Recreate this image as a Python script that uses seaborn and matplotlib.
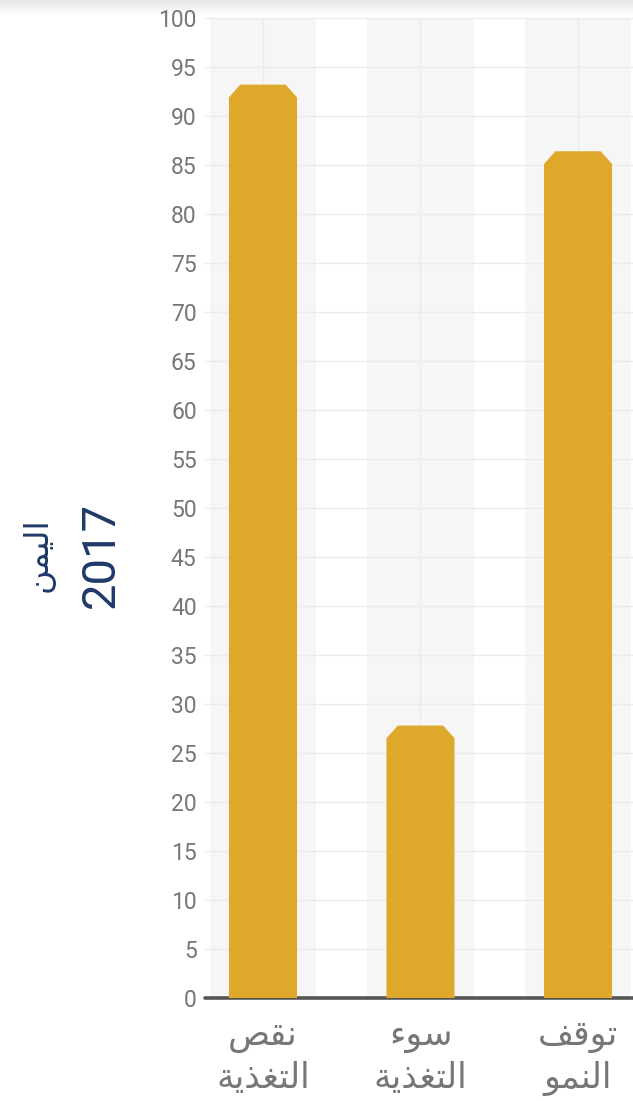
import numpy as np
import matplotlib
matplotlib.use("Agg")
import matplotlib.pyplot as plt
from matplotlib.patches import Polygon
import seaborn as sns

# ---- data ----
categories = ["نقص\nالتغذية", "سوء\nالتغذية", "توقف\nالنمو"]
values = [93.2, 27.8, 86.4]
y_ticks = list(range(0, 101, 5))
country = "اليمن"
year = "2017"

BAR_COLOR = "#DEA82A"
NAVY = "#1F3A68"
GRAY = "#777777"

# ---- minimal Arabic shaping (presentation forms + visual order) ----
FORMS = {
    'ا': ('\uFE8D', '\uFE8E', None, None),
    'ل': ('\uFEDD', '\uFEDE', '\uFEDF', '\uFEE0'),
    'ت': ('\uFE95', '\uFE96', '\uFE97', '\uFE98'),
    'غ': ('\uFECD', '\uFECE', '\uFECF', '\uFED0'),
    'ذ': ('\uFEAB', '\uFEAC', None, None),
    'ي': ('\uFEF1', '\uFEF2', '\uFEF3', '\uFEF4'),
    'ة': ('\uFE93', '\uFE94', None, None),
    'ن': ('\uFEE5', '\uFEE6', '\uFEE7', '\uFEE8'),
    'ق': ('\uFED5', '\uFED6', '\uFED7', '\uFED8'),
    'ص': ('\uFEB9', '\uFEBA', '\uFEBB', '\uFEBC'),
    'س': ('\uFEB1', '\uFEB2', '\uFEB3', '\uFEB4'),
    'و': ('\uFEED', '\uFEEE', None, None),
    'ء': ('\uFE80', None, None, None),
    'ف': ('\uFED1', '\uFED2', '\uFED3', '\uFED4'),
    'م': ('\uFEE1', '\uFEE2', '\uFEE3', '\uFEE4'),
}


def _dual(c):
    return c in FORMS and FORMS[c][2] is not None


def _joinable(c):
    return c in FORMS and FORMS[c][1] is not None


def shape_line(line):
    chars = list(line)
    out = []
    for i, c in enumerate(chars):
        if c not in FORMS:
            out.append(c)
            continue
        prev = chars[i - 1] if i > 0 else None
        nxt = chars[i + 1] if i + 1 < len(chars) else None
        jp = prev is not None and _dual(prev) and _joinable(c)
        jn = nxt is not None and _dual(c) and _joinable(nxt)
        iso, fin, ini, med = FORMS[c]
        if jp and jn:
            f = med
        elif jp:
            f = fin
        elif jn:
            f = ini
        else:
            f = iso
        out.append(f)
    return "".join(reversed(out))


def shape(text):
    return "\n".join(shape_line(l) for l in text.split("\n"))


sns.set_style("white")
plt.rcParams["font.family"] = ["DejaVu Sans"]

fig = plt.figure(figsize=(6.33, 11.01), dpi=100)
fig.patch.set_facecolor("white")

# top shadow gradient
gax = fig.add_axes([0, 1 - 16 / 1101, 1, 16 / 1101])
grad = np.linspace(0.90, 1.0, 32).reshape(-1, 1)
gax.imshow(np.repeat(grad, 4, axis=1), cmap="gray", vmin=0, vmax=1, aspect="auto")
gax.axis("off")

ax = fig.add_axes([205 / 633, 103 / 1101, 428 / 633, 980 / 1101])

sns.barplot(x=categories, y=values, color=BAR_COLOR, width=0.432,
            saturation=1, ax=ax, zorder=3)

# chamfered tops
cut_x, cut_y = 0.072, 1.3
for p in list(ax.patches):
    x0, w, h = p.get_x(), p.get_width(), p.get_height()
    poly = Polygon([(x0, 0), (x0, h - cut_y), (x0 + cut_x, h), (x0 + w - cut_x, h),
                    (x0 + w, h - cut_y), (x0 + w, 0)], closed=True,
                   facecolor=BAR_COLOR, edgecolor="none", zorder=3)
    p.set_visible(False)
    ax.add_patch(poly)

# background bands
for i in range(len(categories)):
    ax.axvspan(i - 0.337, i + 0.337, color="#F6F6F6", zorder=0, lw=0)

ax.set_xlim(-0.368, 2.349)
ax.set_ylim(0, 100)
ax.set_yticks(y_ticks)
ax.set_axisbelow(True)
ax.grid(True, axis="both", color="#EBEBEB", lw=1)
for s in ax.spines.values():
    s.set_visible(False)
ax.axhline(0, color="#555555", lw=2.6, zorder=2, clip_on=False)

ax.set_xticks(range(len(categories)))
ax.set_xticklabels([shape(c) for c in categories], fontsize=25, color=GRAY,
                   linespacing=1.3, family=["DejaVu Sans"])
ax.tick_params(axis="x", length=0, pad=15)
ax.tick_params(axis="y", length=0, pad=6, labelsize=16.5, labelcolor=GRAY)
for t in ax.get_yticklabels():
    t.set_family(["Roboto", "DejaVu Sans"])
ax.set_xlabel("")
ax.set_ylabel("")

fig.text(38 / 633, 1 - 555 / 1101, shape(country), rotation=90, ha="center",
         va="center", color=NAVY, fontsize=24, family=["DejaVu Sans"])
fig.text(101 / 633, 1 - 555 / 1101, year, rotation=90, ha="center",
         va="center", color=NAVY, fontsize=34, family=["Roboto", "DejaVu Sans"])

fig.savefig("out.png", dpi=100, facecolor="white")
